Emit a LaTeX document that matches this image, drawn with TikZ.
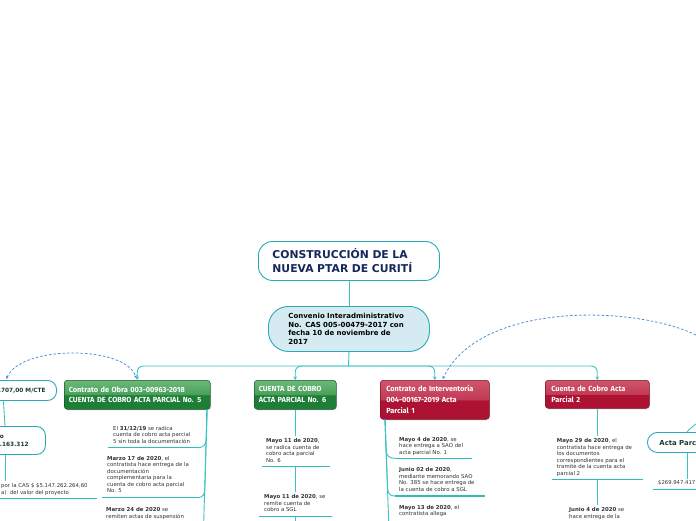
\documentclass[tikz,border=0pt]{standalone}
\usepackage{fontspec}
\setmainfont{DejaVu Sans}
\newfontfamily\boxfont{Fira Sans}
\usetikzlibrary{arrows.meta,shadows,calc}
\definecolor{connc}{HTML}{3CC3C3}
\definecolor{ulc}{HTML}{2DBDBD}
\definecolor{tborder}{HTML}{2AAAB8}
\definecolor{convfill}{HTML}{D5EBF1}
\definecolor{navy}{HTML}{16285A}
\definecolor{dkg}{HTML}{1E3A36}
\definecolor{dashblue}{HTML}{4A90D9}
\definecolor{txt}{HTML}{333333}
\definecolor{gtop}{HTML}{6DB87A}
\definecolor{gmid}{HTML}{46A058}
\definecolor{gbot}{HTML}{1E7D36}
\definecolor{gborder}{HTML}{17582A}
\definecolor{rtop}{HTML}{CF566C}
\definecolor{rmid}{HTML}{C23A55}
\definecolor{rbot}{HTML}{AD1232}
\definecolor{rborder}{HTML}{7A0E24}
\pgfdeclareverticalshading{greengloss}{100bp}{color(0bp)=(gbot); color(49.5bp)=(gbot); color(50bp)=(gmid); color(75bp)=(gtop); color(100bp)=(gtop)}
\pgfdeclareverticalshading{redgloss}{100bp}{color(0bp)=(rbot); color(49.5bp)=(rbot); color(50bp)=(rmid); color(75bp)=(rtop); color(100bp)=(rtop)}
\tikzset{
  conn/.style={draw=connc, line width=0.9pt},
  uline/.style={draw=ulc, line width=1.4pt},
  arr/.style={-{Stealth[length=3.5pt,width=3.5pt]}},
  dsh/.style={draw=dashblue, line width=0.8pt, dash pattern=on 2.5pt off 2pt},
  boxbase/.style={line width=0.5pt, rounded corners=3pt, text=white,
    font=\boxfont\bfseries\fontsize{7.4}{10.8}\selectfont, align=left, anchor=north west,
    inner xsep=4.5pt, inner ysep=0pt,
    drop shadow={opacity=0.25, shadow xshift=0.8pt, shadow yshift=-1pt}},
  gbox/.style={boxbase, shading=greengloss, draw=gborder},
  rbox/.style={boxbase, shading=redgloss, draw=rborder, inner xsep=6pt},
  rootbox/.style={draw=tborder, line width=0.9pt, fill=white, rounded corners=14pt,
    font=\bfseries\fontsize{10.8}{14}\selectfont, text=navy, align=left,
    text width=153pt, inner xsep=14pt, inner ysep=0pt, minimum height=39pt, anchor=north west},
  convbox/.style={draw=tborder, line width=0.9pt, fill=convfill, rounded corners=20pt,
    font=\bfseries\fontsize{7}{8.7}\selectfont, text=black, align=left,
    text width=121pt, inner xsep=20pt, inner ysep=0pt, minimum height=45pt, anchor=north west},
  lpill/.style={draw=tborder, line width=0.9pt, fill=white, rounded corners=9pt, text=dkg,
    inner ysep=0pt},
  item/.style={font=\fontsize{5.4}{6.5}\selectfont, text=txt, align=left, inner sep=0pt, anchor=north west},
}
\begin{document}
\begin{tikzpicture}[x=1pt,y=-1pt]
\useasboundingbox (0,0) rectangle (696,520);
\clip (0,0) rectangle (696,520);
\fill[white] (0,0) rectangle (696,520);

% ---- top ----
\node[rootbox] (root) at (258,241) {CONSTRUCCIÓN DE LA\\NUEVA PTAR DE CURITÍ};
\node[convbox] (conv) at (268,306) {Convenio Interadministrativo\\No. CAS 005-00479-2017 con\\fecha 10 de noviembre de\\2017};
\draw[conn] (root.south) -- (conv.north);
\coordinate (bus) at (348.5,366);
\draw[conn] (conv.south) -- (bus);

% ---- main boxes ----
\node[gbox, minimum width=146pt, minimum height=29pt, text width=137pt] (g1) at (64,380)
  {Contrato de Obra 003-00963-2018\\CUENTA DE COBRO ACTA PARCIAL No. 5};
\node[gbox, minimum width=82pt, minimum height=29pt, text width=73pt] (g2) at (254,380)
  {CUENTA DE COBRO\\ACTA PARCIAL No. 6};
\node[rbox, minimum width=109pt, minimum height=39pt, text width=97pt] (r1) at (380,380)
  {Contrato de Interventoría\\004-00167-2019 Acta\\Parcial 1};
\node[rbox, minimum width=104pt, minimum height=28pt, text width=92pt] (r2) at (545,380)
  {Cuenta de Cobro Acta\\Parcial 2};

\draw[conn,arr,rounded corners=6pt] (bus) -| (g1.north);
\draw[conn,arr,rounded corners=6pt] (bus) -| (g2.north);
\draw[conn,arr,rounded corners=6pt] (bus) -| (r1.north);
\draw[conn,arr,rounded corners=6pt] (bus) -| (r2.north);

% ---- left partial nodes ----
\node[lpill, anchor=north east, minimum height=20pt, inner xsep=11pt,
  font=\bfseries\fontsize{5.8}{7}\selectfont] (lA) at (57,380) {.707,00 M/CTE};
\node[lpill, anchor=north west, minimum height=28pt, text width=26pt, inner xsep=19.5pt, align=left,
  font=\bfseries\fontsize{5.8}{8}\selectfont] (lB) at (-20,426) {o\\.163.312};
\node[item] (lC) at (1,483.5) {por la CAS \$ \$5.147.262.264,60\\a)\ \ del valor del proyecto};
\coordinate (ulCl) at (-2,498.3);
\coordinate (ulCr) at (97,498.3);
\draw[uline] (ulCl) -- (ulCr);
\draw[conn] ($(lA.south west)+(16,0)$) -- ($(lB.north west)+(25,0)$);
\draw[conn] ($(lB.south west)+(25,0)$) -- ($(lB.south west)+(25,26)$);

% dashed relations
\draw[dsh,{Stealth[length=3pt,width=3pt]}-{Stealth[length=3pt,width=3pt]}]
  ($(lA.north west)+(19,-1)$) .. controls (20,345) and (125,345) .. ([xshift=-1pt,yshift=2pt]g1.north);
\coordinate (offR) at (700,337);
\draw[dsh,-{Stealth[length=3pt,width=3pt]}] (offR) .. controls (640,305) and (480,300) .. ([xshift=8pt,yshift=1pt]r1.north);

% ---- items under g1 ----
\node[item] (i11) at (113,425.8) {El \textbf{31/12/19} se radica\\cuenta de cobro acta parcial\\5 sin toda la documentación};
\node[item] (i12) at (107,455.8) {\textbf{Marzo 17 de 2020}, el\\contratista hace entrega de la\\documentación\\complementaria para la\\cuenta de cobro acta parcial\\No. 5};
\node[item] (i13) at (106,507.3) {\textbf{Marzo 24 de 2020} se\\remiten actas de suspensión};
\coordinate (g1c) at ($(g1.south east)+(-3.5,0)$);
\coordinate (u11l) at (108,447.7); \coordinate (u11r) at (197,447.7);
\coordinate (u12l) at (102,497.7); \coordinate (u12r) at (197,497.7);
\draw[uline] (u11l) -- (u11r);
\draw[uline] (u12l) -- (u12r);
\draw[conn] (g1c) -- (206.5,436) .. controls (206.5,445) and (204,447.7) .. (u11r);
\draw[conn] (g1c) -- (205,486) .. controls (205,495) and (203,497.7) .. (u12r);
\draw[conn] (g1c) -- (203.5,530);

% ---- items under g2 ----
\node[item] (i21) at (266,438.5) {\textbf{Mayo 11 de 2020},\\se radica cuenta de\\cobro acta parcial\\No. 6};
\node[item] (i22) at (264,494.2) {\textbf{Mayo 11 de 2020}, se\\remite cuenta de\\cobro a SGL};
\coordinate (u21l) at (261.7,466.7); \coordinate (u21r) at (330,466.7);
\coordinate (u22l) at (259,516.7); \coordinate (u22r) at (332,516.7);
\draw[uline] (u21l) -- (u21r);
\draw[uline] (u22l) -- (u22r);
\draw[conn, shorten >=2.5pt] (g2.south) -- (g2.south |- i21.north);
\draw[conn, shorten >=2.5pt] (g2.south |- u21l) -- (g2.south |- i22.north);
\draw[conn] (g2.south |- u22l) -- ++(0,15);

% ---- items under r1 ----
\node[item] (i31) at (399,436.8) {\textbf{Mayo 4 de 2020}, se\\hace entrega a SAO del\\acta parcial No. 1};
\node[item] (i32) at (399,467.2) {\textbf{Junio 02 de 2020},\\mediante memorando SAO\\No. 385 se hace entrega de\\la cuenta de cobro a SGL};
\node[item] (i33) at (399,504.8) {\textbf{Mayo 13 de 2020}, el\\contratista allega};
\coordinate (r1c) at ($(r1.south west)+(5,0)$);
\coordinate (u31l) at (395,458.3); \coordinate (u31r) at (472,458.3);
\coordinate (u32l) at (395,496); \coordinate (u32r) at (485,496);
\draw[uline] (u31l) -- (u31r);
\draw[uline] (u32l) -- (u32r);
\draw[conn] (r1c) -- (386,448) .. controls (386,456) and (389,458.3) .. (u31l);
\draw[conn] (r1c) -- (387.5,486) .. controls (387.5,494) and (390,496) .. (u32l);
\draw[conn] (r1c) -- (389,530);

% ---- items under r2 ----
\node[item] (i41) at (556.7,438.5) {\textbf{Mayo 29 de 2020}, el\\contratista hace entrega de\\los documentos\\correspondientes para el\\tramite de la cuenta acta\\parcial 2};
\node[item] (i42) at (569,507.5) {\textbf{Junio 4 de 2020} se\\hace entrega de la};
\coordinate (u41l) at (552,479.3); \coordinate (u41r) at (643,479.3);
\draw[uline] (u41l) -- (u41r);
\draw[conn, shorten >=2.5pt] (r2.south) -- (r2.south |- i41.north);
\draw[conn, shorten >=2.5pt] (r2.south |- u41l) -- (r2.south |- i42.north);

% ---- right partial node ----
\node[lpill, anchor=north west, minimum height=20pt, inner xsep=12pt, rounded corners=10pt,
  font=\bfseries\fontsize{6.9}{8}\selectfont] (rN) at (647,432) {Acta Parcial};
\coordinate (rNt) at (687,432);
\coordinate (rNin) at (704,418);
\draw[conn] (rNt) .. controls (690,428) and (696,424) .. (rNin);
\node[item, font=\fontsize{5.3}{6.5}\selectfont] (rV) at (658,480.5) {\$269.947.417};
\coordinate (u5l) at (653,489.5); \coordinate (u5r) at (700,489.5);
\draw[uline] (u5l) -- (u5r);
\draw[conn, shorten >=2pt] (rN.south -| rNt) -- (rV.north -| rNt);
\end{tikzpicture}
\end{document}
